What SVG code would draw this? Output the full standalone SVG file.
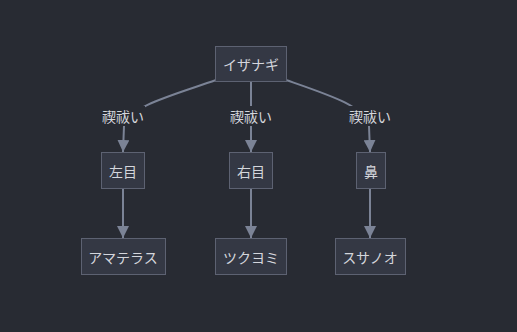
<svg xmlns="http://www.w3.org/2000/svg" width="517" height="332" viewBox="0 0 517 332">
<style>
.bg{fill:#282b33}
.node rect{fill:#343844;stroke:#5d6272;stroke-width:1}
text{font-family:"Noto Sans CJK JP","Noto Sans",sans-serif;font-size:14px;fill:#d4d6dc;text-anchor:middle;dominant-baseline:central}
.edge{fill:none;stroke:#7b8396;stroke-width:2}
.lblbg{fill:#282b33}
</style>
<defs>
<marker id="arr" viewBox="0 0 12 12" refX="12" refY="6" markerWidth="12" markerHeight="12" markerUnits="userSpaceOnUse" orient="auto">
<path d="M0,0 L12,6 L0,12 z" fill="#7b8396"/>
</marker>
</defs>
<rect class="bg" x="0" y="0" width="517" height="332"/>
<g id="connectors">
<path class="edge" d="M216,80 C170,96 130,106 124,126 L123,152" marker-end="url(#arr)"/>
<path class="edge" d="M251,81 L251,152" marker-end="url(#arr)"/>
<path class="edge" d="M286,80 C332,96 364,106 369,126 L370,152" marker-end="url(#arr)"/>
<path class="edge" d="M123,189 L123,238" marker-end="url(#arr)"/>
<path class="edge" d="M251,189 L251,238" marker-end="url(#arr)"/>
<path class="edge" d="M370,189 L370,238" marker-end="url(#arr)"/>
<g id="label-left"><rect class="lblbg" x="101" y="106" width="44" height="20"/><text x="123" y="116">禊祓い</text></g>
<g id="label-mid"><rect class="lblbg" x="229" y="106" width="44" height="20"/><text x="251" y="116">禊祓い</text></g>
<g id="label-right"><rect class="lblbg" x="348" y="106" width="44" height="20"/><text x="370" y="116">禊祓い</text></g>
</g>
<g id="izanagi" class="node"><rect x="215.5" y="46.5" width="71" height="35"/><text x="251" y="64">イザナギ</text></g>
<g id="hidarime" class="node"><rect x="101.5" y="152.5" width="43" height="36"/><text x="123" y="171">左目</text></g>
<g id="migime" class="node"><rect x="229.5" y="152.5" width="43" height="36"/><text x="251" y="171">右目</text></g>
<g id="hana" class="node"><rect x="356.5" y="152.5" width="29" height="36"/><text x="371" y="171">鼻</text></g>
<g id="amaterasu" class="node"><rect x="81.5" y="238.5" width="84" height="36"/><text x="123" y="257">アマテラス</text></g>
<g id="tsukuyomi" class="node"><rect x="215.5" y="238.5" width="71" height="36"/><text x="251" y="257">ツクヨミ</text></g>
<g id="susanoo" class="node"><rect x="335.5" y="238.5" width="70" height="36"/><text x="370" y="257">スサノオ</text></g>
</svg>
